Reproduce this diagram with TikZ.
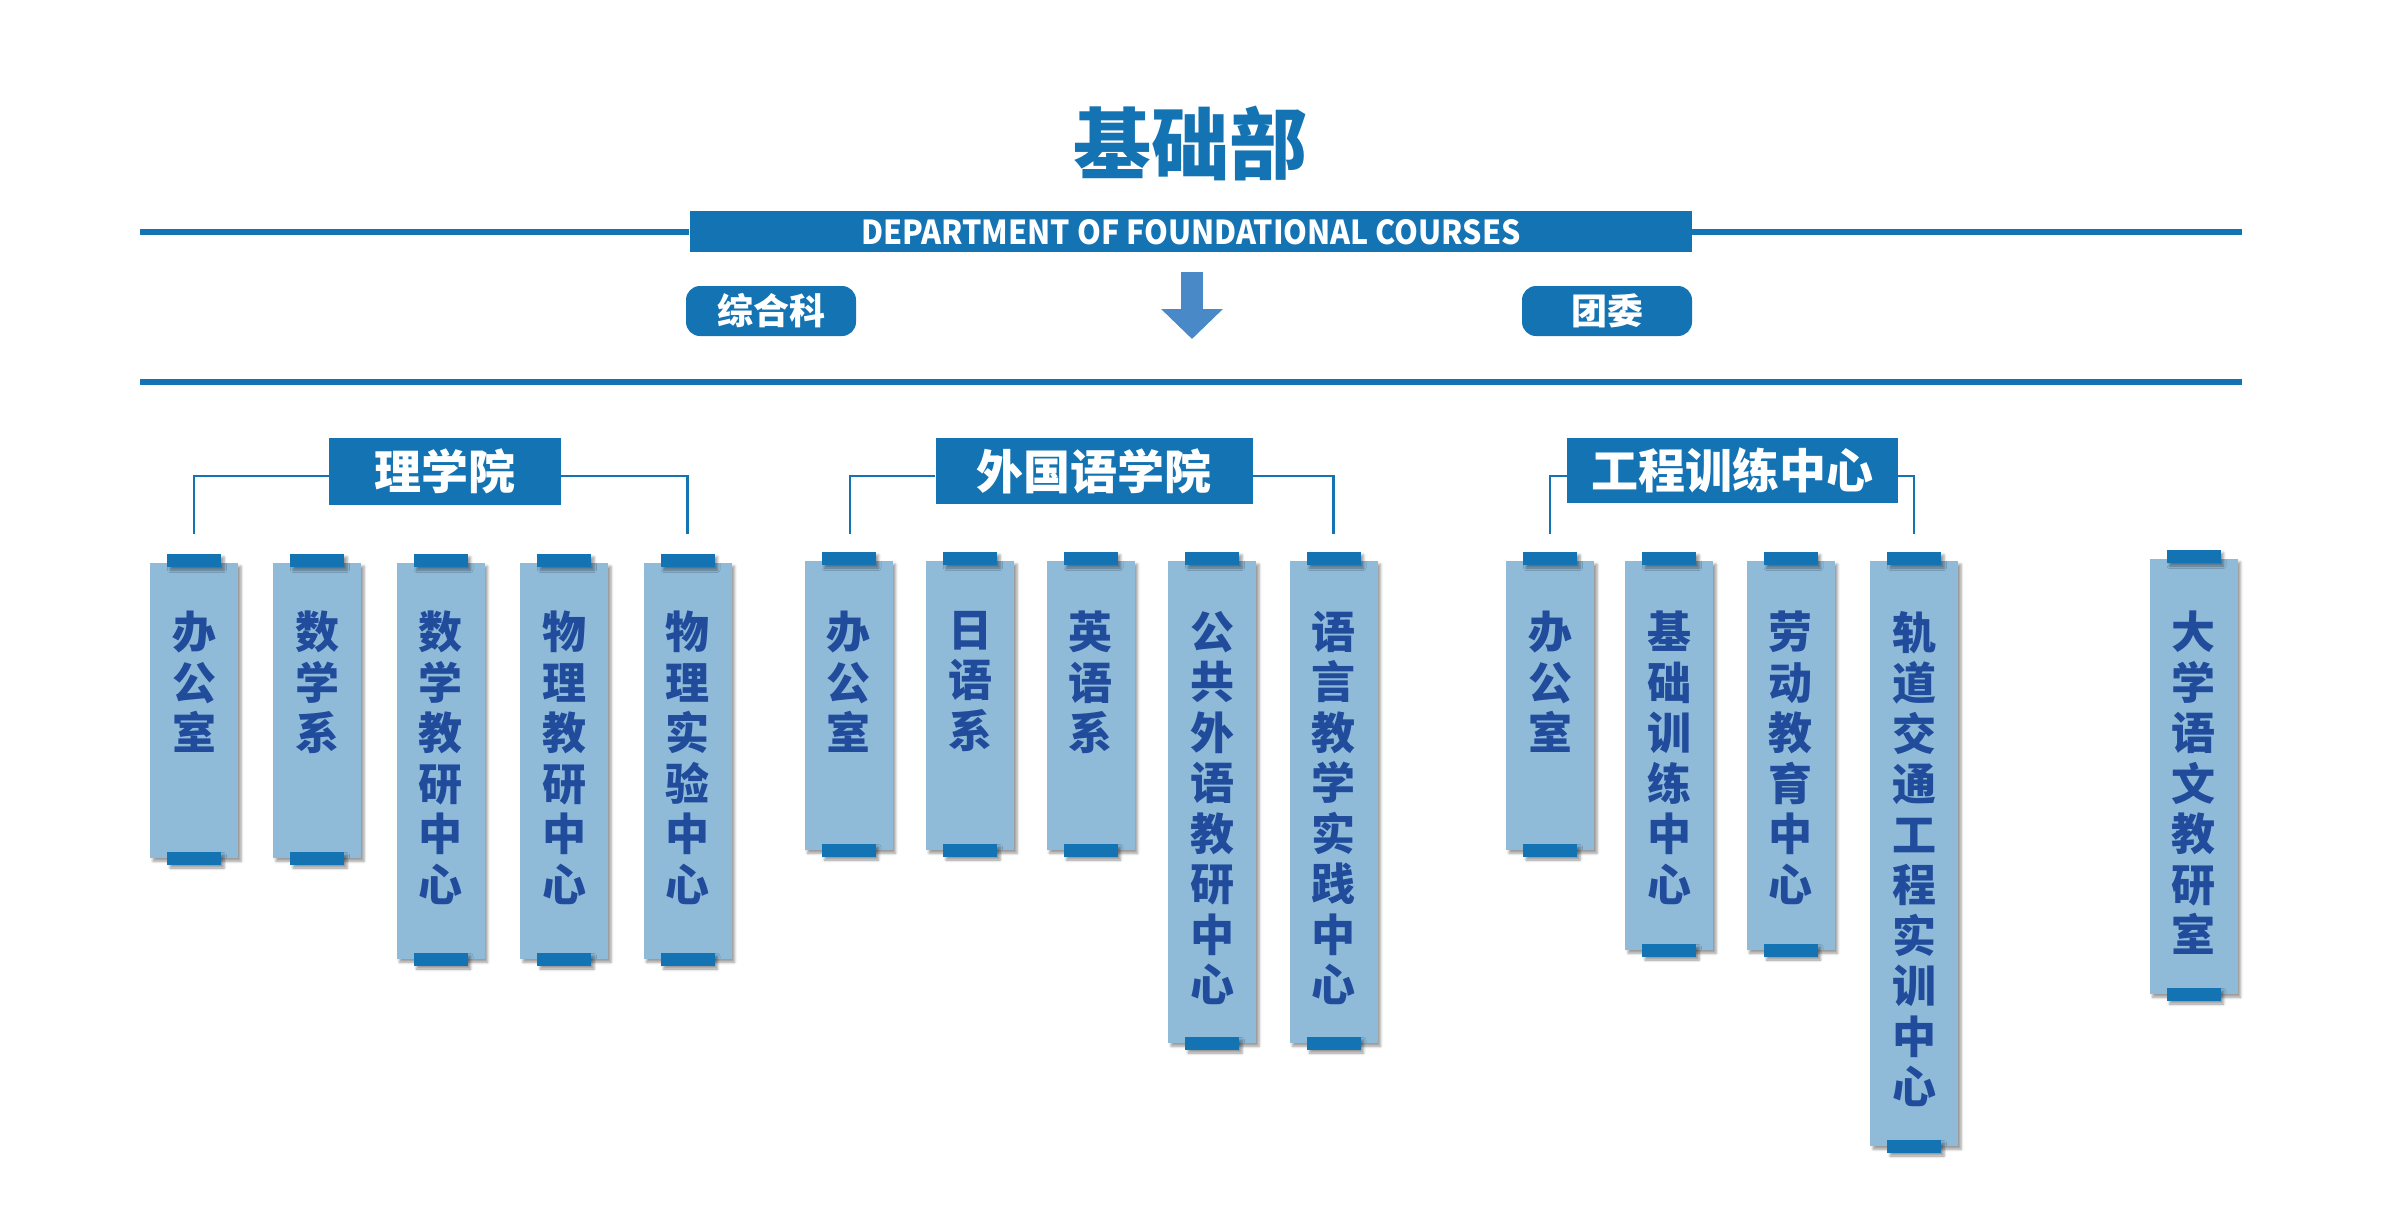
\documentclass[tikz,border=0pt]{standalone}
\usepackage{fontspec}
\newfontfamily\cjk{Noto Sans CJK SC}
\usetikzlibrary{shadows.blur,arrows.meta}
\definecolor{mainblue}{HTML}{1473B3}
\definecolor{lightblue}{HTML}{8FBBD9}
\definecolor{textblue}{HTML}{214B9B}
\definecolor{arrowblue}{HTML}{4A89C8}
\newcommand\orgcol[6]{%
  \node[colbody, minimum height=#4pt, anchor=north] (#1) at (#2,#3) {};
  \node[tabbox] (#1top) at (#2,{#3-2.5}) {};
  \node[tabbox] (#1bot) at (#2,{#5+0.5}) {};
  \node[coltext] (#1txt) at (#2,611) {#6};
}
\begin{document}
\begin{tikzpicture}[x=1pt,y=-1pt,
  myshadow/.style={blur shadow={shadow xshift=3pt, shadow yshift=-3pt, shadow blur radius=2.5pt, shadow opacity=40}},
  colbody/.style={fill=lightblue, draw=none, minimum width=88pt, inner sep=0pt, myshadow},
  tabbox/.style={fill=mainblue, draw=none, minimum width=54pt, minimum height=13pt, inner sep=0pt, myshadow},
  coltext/.style={font=\cjk\bfseries\fontsize{44}{50.5}\selectfont, text=textblue, align=center, inner sep=0pt, anchor=north},
  groupbox/.style={fill=mainblue, draw=none, text=white, font=\cjk\bfseries\fontsize{47}{50}\selectfont, inner sep=0pt},
  pill/.style={fill=mainblue, draw=none, text=white, font=\cjk\bfseries\fontsize{36}{40}\selectfont, rounded corners=14pt, minimum width=170pt, minimum height=50pt, inner sep=0pt},
  conn/.style={draw=mainblue, line width=2.5pt},
  rule/.style={draw=mainblue, line width=6pt},
]
\useasboundingbox (0,0) rectangle (2393,1227);

% header
\node[text=mainblue, font=\cjk\bfseries\fontsize{78}{80}\selectfont, inner sep=0pt] (title) at (1190,144) {基础部};
\coordinate (topL) at (140,231.5);
\coordinate (topR) at (2242,231.5);
\coordinate (botL) at (140,382);
\coordinate (botR) at (2242,382);
\node[fill=mainblue, draw=none, minimum width=1002.5pt, minimum height=41pt, inner sep=0pt] (bar) at (1190.75,231.5) {};
\draw[rule] (topL) -- (bar.west);
\draw[rule] (bar.east) -- (topR);
\node[text=white, font=\cjk\bfseries\fontsize{33}{36}\selectfont, inner sep=0pt] (bartext) at (1191,232) {\scalebox{0.92}[1]{DEPARTMENT OF FOUNDATIONAL COURSES}};
\draw[rule] (botL) -- (botR);

\node[pill] (zhk) at (771,311) {综合科};
\node[pill] (tw) at (1607,311) {团委};
\coordinate (arrS) at (1192,272);
\coordinate (arrE) at (1192,339);
\draw[arrowblue, line width=21.5pt, -{Triangle[width=60pt,length=30pt]}] (arrS) -- (arrE);

% groups
\coordinate (hy) at (0,476);
\node[groupbox, minimum width=232pt, minimum height=67pt] (g1) at (445,471.5) {理学院};
\node[groupbox, minimum width=317pt, minimum height=66pt] (g2) at (1094,471) {外国语学院};
\node[groupbox, minimum width=331pt, minimum height=65pt] (g3) at (1732.5,470.5) {工程训练中心};

% left group
\orgcol{La}{194}{563}{295}{858}{办\\公\\室}
\orgcol{Lb}{317}{563}{295}{858}{数\\学\\系}
\orgcol{Lc}{440.5}{563}{396}{959}{数\\学\\教\\研\\中\\心}
\orgcol{Ld}{564}{563}{396}{959}{物\\理\\教\\研\\中\\心}
\orgcol{Le}{687.5}{563}{396}{959}{物\\理\\实\\验\\中\\心}

% middle group
\orgcol{Ma}{848.5}{561}{289}{850}{办\\公\\室}
\orgcol{Mb}{970}{561}{289}{850}{日\\语\\系}
\orgcol{Mc}{1090.5}{561}{289}{850}{英\\语\\系}
\orgcol{Md}{1212}{561}{482}{1043}{公\\共\\外\\语\\教\\研\\中\\心}
\orgcol{Me}{1333.5}{561}{482}{1043}{语\\言\\教\\学\\实\\践\\中\\心}

% right group
\orgcol{Ra}{1550}{561}{289}{850}{办\\公\\室}
\orgcol{Rb}{1669}{561}{389}{950}{基\\础\\训\\练\\中\\心}
\orgcol{Rc}{1790.5}{561}{389}{950}{劳\\动\\教\\育\\中\\心}
\orgcol{Rd}{1914}{561}{585}{1146}{轨\\道\\交\\通\\工\\程\\实\\训\\中\\心}
\orgcol{Re}{2193.5}{559}{435}{994}{大\\学\\语\\文\\教\\研\\室}

% connectors
\coordinate (LaC) at (194,534);
\coordinate (LeC) at (687.5,534);
\coordinate (MaC) at (850,534);
\coordinate (MeC) at (1333.5,534);
\coordinate (RaC) at (1550,534);
\coordinate (RdC) at (1914,534);
\draw[conn] (g1.west |- hy) -| (LaC);
\draw[conn] (g1.east |- hy) -| (LeC);
\draw[conn] (g2.west |- hy) -| (MaC);
\draw[conn] (g2.east |- hy) -| (MeC);
\draw[conn] (g3.west |- hy) -| (RaC);
\draw[conn] (g3.east |- hy) -| (RdC);
\end{tikzpicture}
\end{document}
